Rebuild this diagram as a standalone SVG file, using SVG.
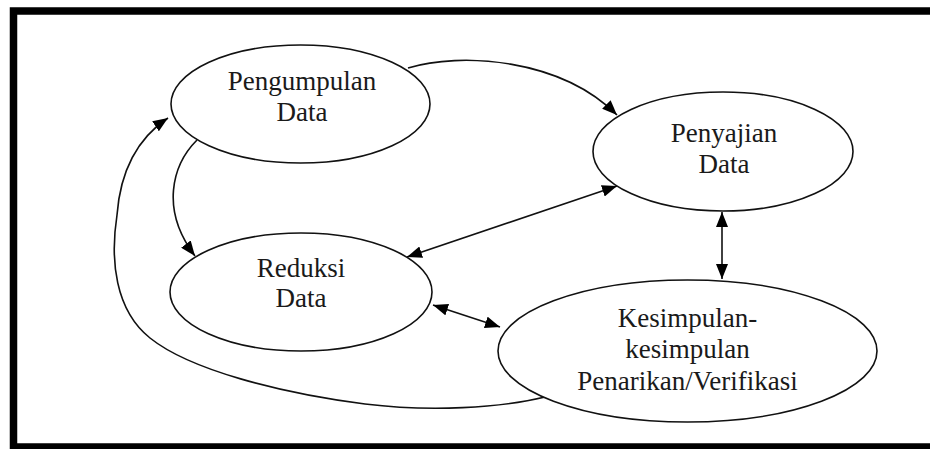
<svg xmlns="http://www.w3.org/2000/svg" width="930" height="449" viewBox="0 0 930 449">
  <style>
    .node ellipse { fill: #ffffff; stroke: #111111; stroke-width: 1.6; }
    .node text { font-family: "Liberation Serif", "Times New Roman", serif; font-size: 27px; fill: #1a1a1a; text-anchor: middle; }
    .edge { fill: none; stroke: #111111; stroke-width: 1.6; }
    .one { marker-end: url(#head); }
    .both { marker-start: url(#head); marker-end: url(#head); }
  </style>
  <defs>
    <marker id="head" markerUnits="userSpaceOnUse" markerWidth="16" markerHeight="12" refX="15" refY="6" orient="auto-start-reverse">
      <path d="M0,0 L15,6 L0,12 Z" fill="#000000"/>
    </marker>
  </defs>

  <rect x="0" y="0" width="930" height="449" fill="#ffffff"/>
  <!-- heavy frame, open on the right -->
  <rect x="13.5" y="11" width="940" height="436" fill="none" stroke="#000000" stroke-width="7.5"/>

  <g id="connectors">
    <!-- Pengumpulan -> Penyajian -->
    <path class="edge one" d="M408,68 C460,52 560,58 617,115"/>
    <!-- Pengumpulan -> Reduksi -->
    <path class="edge one" d="M197,140 C172,165 160,210 195,256"/>
    <!-- Penyajian <-> Reduksi -->
    <path class="edge both" d="M617,186 L407,257"/>
    <!-- Penyajian <-> Kesimpulan -->
    <path class="edge both" d="M722,212 L722,279"/>
    <!-- Reduksi <-> Kesimpulan -->
    <path class="edge both" d="M433,305 L500,327"/>
    <!-- Kesimpulan -> Pengumpulan (outer loop) -->
    <path class="edge one" d="M545,397 C500,408 430,412 365,404 C280,393 190,370 150,338 C115,310 110,260 117,215 C120,175 135,140 168,118"/>
  </g>

  <g id="pengumpulan" class="node">
    <ellipse cx="300.5" cy="104" rx="129.5" ry="59"/>
    <text x="302" y="90">Pengumpulan</text>
    <text x="302" y="121">Data</text>
  </g>

  <g id="penyajian" class="node">
    <ellipse cx="723" cy="151.5" rx="130" ry="59.5"/>
    <text x="724" y="142">Penyajian</text>
    <text x="724" y="173">Data</text>
  </g>

  <g id="reduksi" class="node">
    <ellipse cx="301" cy="292" rx="131" ry="59"/>
    <text x="301" y="277">Reduksi</text>
    <text x="301" y="307">Data</text>
  </g>

  <g id="kesimpulan" class="node">
    <ellipse cx="687.5" cy="351" rx="189.5" ry="71"/>
    <text x="687.5" y="327">Kesimpulan-</text>
    <text x="687.5" y="358">kesimpulan</text>
    <text x="687.5" y="390">Penarikan/Verifikasi</text>
  </g>
</svg>
